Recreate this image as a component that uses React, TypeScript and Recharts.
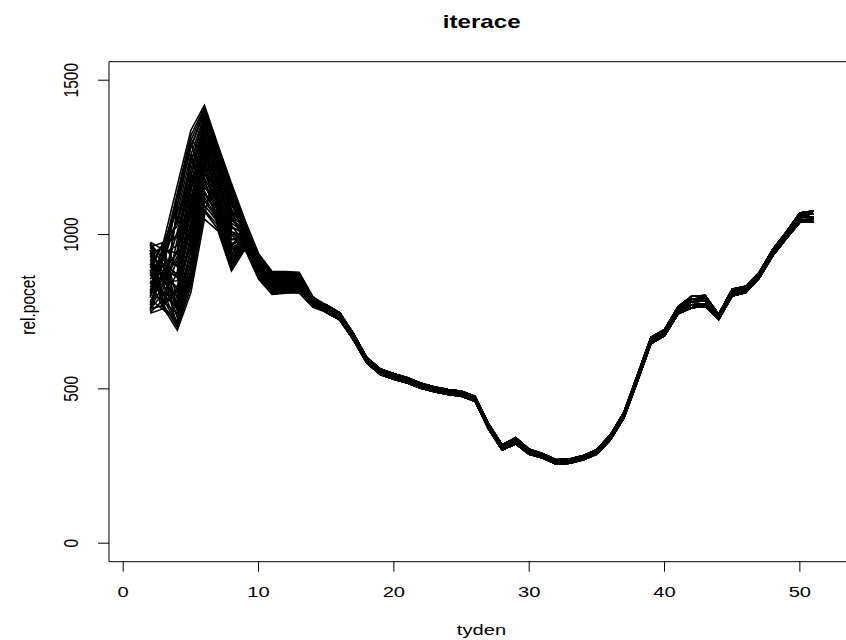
import React from "react";
import { LineChart, Line, XAxis, YAxis, ReferenceArea } from "recharts";

// weeks 2..51
const WEEKS = [
  2, 3, 4, 5, 6, 7, 8, 9, 10, 11, 12, 13, 14, 15, 16, 17, 18, 19, 20, 21, 22, 23, 24, 25, 26,
  27, 28, 29, 30, 31, 32, 33, 34, 35, 36, 37, 38, 39, 40, 41, 42, 43, 44, 45, 46, 47, 48, 49, 50, 51,
];

// early weeks (2..14) differ a lot between iterations
const HEAD_01 = [745, 760, 690, 812, 1050, 1012, 882, 952, 856, 806, 810, 812, 765];
const HEAD_02 = [760, 770, 700, 830, 1080, 1030, 895, 958, 862, 810, 815, 815, 768];
const HEAD_03 = [790, 755, 720, 870, 1110, 1045, 905, 965, 870, 815, 820, 818, 770];
const HEAD_04 = [820, 780, 745, 910, 1140, 1060, 920, 972, 876, 820, 826, 822, 772];
const HEAD_05 = [850, 800, 770, 950, 1170, 1080, 935, 978, 882, 826, 832, 828, 775];
const HEAD_06 = [880, 830, 800, 990, 1200, 1095, 950, 985, 888, 830, 838, 832, 778];
const HEAD_07 = [910, 860, 830, 1030, 1230, 1110, 965, 990, 895, 836, 844, 838, 780];
const HEAD_08 = [940, 890, 860, 1070, 1260, 1130, 985, 998, 900, 842, 850, 842, 783];
const HEAD_09 = [970, 920, 900, 1110, 1290, 1150, 1000, 1005, 905, 848, 856, 848, 786];
const HEAD_10 = [975, 950, 940, 1150, 1320, 1170, 1020, 1012, 912, 852, 862, 852, 788];
const HEAD_11 = [960, 975, 990, 1190, 1350, 1195, 1045, 1020, 918, 858, 868, 858, 790];
const HEAD_12 = [930, 965, 1040, 1230, 1380, 1220, 1075, 1028, 924, 864, 872, 864, 793];
const HEAD_13 = [900, 972, 1095, 1285, 1400, 1255, 1120, 1036, 930, 870, 876, 870, 796];
const HEAD_14 = [880, 980, 1160, 1338, 1419, 1290, 1165, 1046, 938, 880, 880, 878, 800];
const HEAD_15 = [965, 900, 760, 880, 1300, 1200, 1100, 1030, 905, 845, 848, 850, 785];
const HEAD_16 = [900, 870, 730, 960, 1350, 1240, 1080, 960, 860, 812, 835, 840, 775];
const HEAD_17 = [840, 920, 860, 1180, 1250, 1020, 890, 1040, 930, 872, 860, 865, 790];
const HEAD_18 = [780, 890, 820, 1100, 1180, 1030, 900, 1000, 915, 860, 855, 858, 782];
const HEAD_19 = [760, 840, 950, 1250, 1100, 1150, 1120, 990, 880, 820, 870, 875, 795];
const HEAD_20 = [810, 960, 1000, 1060, 1390, 1100, 950, 960, 900, 850, 825, 830, 770];
const HEAD_21 = [950, 780, 880, 1200, 1060, 1250, 1050, 1000, 925, 840, 845, 860, 780];
const HEAD_22 = [870, 810, 710, 850, 1220, 1180, 1010, 970, 890, 835, 840, 845, 777];
const HEAD_23 = [930, 850, 780, 1000, 1330, 1060, 930, 1015, 870, 828, 850, 836, 784];
const HEAD_24 = [800, 930, 1100, 1300, 1150, 1120, 1000, 950, 920, 865, 865, 868, 792];
const HEAD_25 = [748, 790, 705, 845, 1075, 1018, 886, 955, 858, 808, 812, 811, 766];
const HEAD_26 = [905, 762, 722, 860, 1095, 1040, 900, 962, 866, 813, 818, 819, 769];
const HEAD_27 = [968, 835, 735, 880, 1120, 1052, 915, 968, 872, 818, 823, 821, 771];
const HEAD_28 = [772, 880, 752, 902, 1132, 1066, 927, 973, 877, 823, 829, 826, 774];
const HEAD_29 = [855, 925, 768, 925, 1160, 1074, 940, 976, 880, 827, 833, 829, 775];
const HEAD_30 = [938, 958, 790, 945, 1185, 1090, 958, 981, 884, 831, 837, 834, 777];
const HEAD_31 = [758, 812, 812, 968, 1208, 1102, 972, 985, 887, 834, 841, 836, 779];
const HEAD_32 = [885, 768, 828, 988, 1222, 1118, 983, 988, 891, 838, 845, 839, 781];
const HEAD_33 = [972, 848, 850, 1012, 1243, 1125, 996, 993, 894, 841, 849, 843, 783];
const HEAD_34 = [830, 905, 872, 1040, 1262, 1141, 1008, 997, 898, 845, 852, 846, 784];
const HEAD_35 = [795, 968, 895, 1065, 1275, 1160, 1025, 1002, 902, 849, 855, 849, 786];
const HEAD_36 = [920, 808, 918, 1088, 1298, 1172, 1037, 1007, 906, 851, 858, 851, 787];
const HEAD_37 = [762, 885, 942, 1115, 1312, 1188, 1052, 1010, 909, 855, 861, 854, 789];
const HEAD_38 = [868, 940, 965, 1140, 1326, 1205, 1068, 1015, 913, 857, 864, 856, 790];
const HEAD_39 = [950, 778, 985, 1163, 1340, 1214, 1082, 1019, 916, 860, 866, 859, 792];
const HEAD_40 = [808, 862, 1010, 1188, 1355, 1230, 1095, 1024, 920, 863, 869, 861, 793];
const HEAD_41 = [892, 975, 1028, 1210, 1362, 1243, 1110, 1027, 923, 866, 871, 864, 794];
const HEAD_42 = [966, 918, 1050, 1236, 1372, 1252, 1122, 1031, 926, 868, 873, 866, 795];
const HEAD_43 = [782, 825, 1072, 1258, 1385, 1262, 1135, 1034, 928, 871, 875, 868, 796];
const HEAD_44 = [845, 758, 1095, 1282, 1395, 1270, 1146, 1038, 931, 873, 876, 871, 797];
const HEAD_45 = [928, 895, 1118, 1305, 1405, 1279, 1155, 1041, 933, 875, 877, 873, 798];
const HEAD_46 = [753, 952, 1135, 1320, 1412, 1284, 1160, 1043, 935, 877, 878, 875, 799];
const HEAD_47 = [876, 805, 760, 1150, 1280, 1115, 935, 1005, 900, 835, 840, 842, 778];
const HEAD_48 = [958, 870, 700, 880, 1340, 1225, 1060, 985, 875, 820, 845, 848, 780];
const HEAD_49 = [818, 972, 1080, 1120, 1200, 1250, 1130, 1020, 910, 850, 830, 835, 774];
const HEAD_50 = [900, 838, 930, 1260, 1140, 1060, 960, 1030, 925, 868, 862, 858, 788];
const HEAD_51 = [772, 928, 1120, 1310, 1250, 1180, 1030, 970, 895, 842, 870, 868, 792];
const HEAD_52 = [940, 770, 820, 1040, 1395, 1270, 1100, 1000, 885, 830, 852, 855, 782];

// later weeks (15..51) nearly the same for every iteration
const TAIL_1 = [
  748, 724, 660, 584, 546, 531, 519, 502, 491, 482, 476, 460, 370, 302, 322, 288, 276, 256, 259,
  270, 289, 335, 406, 525, 647, 672, 743, 763, 768, 725, 801, 812, 859, 932, 987, 1040, 1040,
];
const TAIL_2 = [
  754, 729, 665, 588, 551, 535, 523, 506, 494, 486, 480, 464, 374, 306, 327, 292, 279, 259, 262,
  273, 292, 339, 410, 530, 652, 677, 749, 772, 775, 729, 806, 817, 864, 937, 992, 1047, 1049,
];
const TAIL_3 = [
  760, 735, 670, 592, 555, 540, 527, 510, 498, 490, 484, 468, 378, 310, 332, 296, 283, 263, 266,
  277, 296, 343, 415, 535, 657, 682, 755, 782, 785, 733, 812, 822, 868, 942, 998, 1055, 1057,
];
const TAIL_4 = [
  766, 741, 675, 597, 560, 544, 532, 514, 502, 494, 488, 472, 382, 314, 337, 300, 287, 266, 270,
  281, 300, 347, 420, 540, 662, 687, 761, 791, 794, 737, 818, 827, 873, 947, 1003, 1063, 1067,
];
const TAIL_5 = [
  772, 746, 680, 601, 564, 549, 536, 518, 506, 498, 492, 476, 386, 318, 342, 304, 290, 270, 273,
  284, 303, 351, 424, 545, 667, 692, 766, 800, 802, 741, 823, 832, 877, 952, 1008, 1070, 1076,
];

const X_TICKS = [0, 10, 20, 30, 40, 50];
const Y_TICKS = [0, 500, 1000, 1500];

const HEADS = [
  HEAD_01, HEAD_02, HEAD_03, HEAD_04, HEAD_05, HEAD_06, HEAD_07, HEAD_08, HEAD_09, HEAD_10,
  HEAD_11, HEAD_12, HEAD_13, HEAD_14, HEAD_15, HEAD_16, HEAD_17, HEAD_18, HEAD_19, HEAD_20,
  HEAD_21, HEAD_22, HEAD_23, HEAD_24, HEAD_25, HEAD_26, HEAD_27, HEAD_28, HEAD_29, HEAD_30,
  HEAD_31, HEAD_32, HEAD_33, HEAD_34, HEAD_35, HEAD_36, HEAD_37, HEAD_38, HEAD_39, HEAD_40,
  HEAD_41, HEAD_42, HEAD_43, HEAD_44, HEAD_45, HEAD_46, HEAD_47, HEAD_48, HEAD_49, HEAD_50,
  HEAD_51, HEAD_52,
];
const TAILS = [TAIL_1, TAIL_2, TAIL_3, TAIL_4, TAIL_5];

const series = HEADS.map((h, k) => [...h, ...TAILS[k % TAILS.length]]);

const data = WEEKS.map((w, i) => {
  const row: Record<string, number> = { tyden: w };
  series.forEach((s, k) => {
    row["s" + k] = s[i];
  });
  return row;
});

const FONT = "'Liberation Sans', Arial, Helvetica, sans-serif";
const FS = 15.5;
const SX = 1.3; // reference text is stretched horizontally

function XTick(props: any) {
  const { x, payload } = props;
  return (
    <text
      transform={`translate(${x},597.3) scale(${SX},1)`}
      textAnchor="middle"
      fontFamily={FONT}
      fontSize={FS}
      fill="#000"
    >
      {payload.value}
    </text>
  );
}

function YTick(props: any) {
  const { y, payload } = props;
  return (
    <text
      transform={`translate(78,${y}) scale(${SX},1) rotate(-90)`}
      textAnchor="middle"
      fontFamily={FONT}
      fontSize={FS}
      fill="#000"
    >
      {payload.value}
    </text>
  );
}

export default function App() {
  return (
    <div
      style={{
        position: "absolute",
        left: 0,
        top: 0,
        width: 846,
        height: 640,
        overflow: "hidden",
        background: "#fff",
      }}
    >
      <LineChart
        width={860}
        height={640}
        data={data}
        margin={{ top: 61.7, right: 6, bottom: 38.3, left: 49 }}
      >
        <XAxis
          dataKey="tyden"
          type="number"
          domain={[-1.05, 54]}
          ticks={X_TICKS}
          interval={0}
          axisLine={false}
          tickLine={{ stroke: "#000" }}
          tickSize={10}
          height={40}
          tick={<XTick />}
        />
        <YAxis
          type="number"
          domain={[-60, 1560]}
          ticks={Y_TICKS}
          interval={0}
          axisLine={false}
          tickLine={{ stroke: "#000" }}
          tickSize={11}
          width={60}
          tick={<YTick />}
        />
        <ReferenceArea
          x1={-1.05}
          x2={54}
          y1={-60}
          y2={1560}
          fill="none"
          stroke="#000"
          strokeWidth={1}
          ifOverflow="visible"
        />
        {series.map((_, k) => (
          <Line
            key={k}
            dataKey={"s" + k}
            type="linear"
            stroke="#000"
            strokeWidth={1.6}
            dot={false}
            activeDot={false}
            isAnimationActive={false}
          />
        ))}
      </LineChart>
      <svg
        width={846}
        height={640}
        style={{ position: "absolute", left: 0, top: 0, pointerEvents: "none" }}
      >
        <text
          transform={`translate(481.7,28) scale(${SX},1)`}
          textAnchor="middle"
          fontFamily={FONT}
          fontSize={18.6}
          fontWeight="bold"
          fill="#000"
        >
          iterace
        </text>
        <text
          transform={`translate(481.5,634.5) scale(${SX},1)`}
          textAnchor="middle"
          fontFamily={FONT}
          fontSize={FS}
          fill="#000"
        >
          tyden
        </text>
        <text
          transform={`translate(35,305) scale(${SX},1) rotate(-90)`}
          textAnchor="middle"
          fontFamily={FONT}
          fontSize={FS}
          fill="#000"
        >
          rel.pocet
        </text>
      </svg>
    </div>
  );
}
